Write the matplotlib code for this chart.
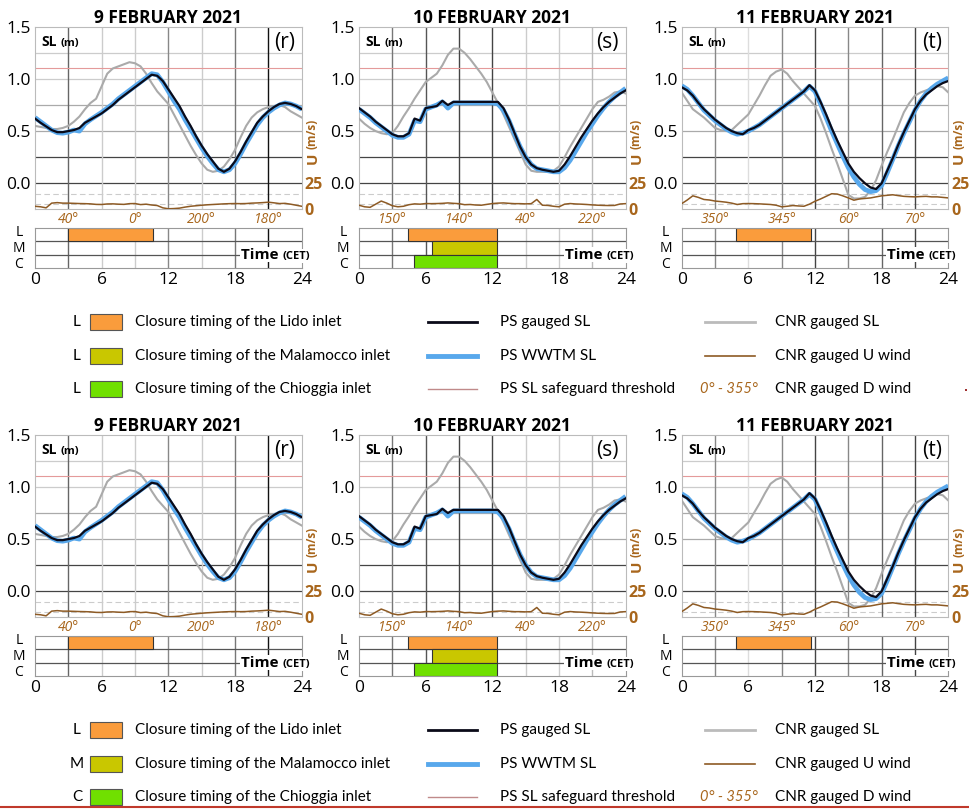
import numpy as np
import matplotlib.pyplot as plt
from matplotlib.lines import Line2D
from matplotlib.patches import Rectangle
import matplotlib.transforms as mtransforms

plt.rcParams['font.family'] = ['Open Sans', 'DejaVu Sans']

W, H = 970, 810

# time axis (hours, CET), half-hourly
hours = np.arange(0, 24.5, 0.5)

days = ["9 FEBRUARY 2021", "10 FEBRUARY 2021", "11 FEBRUARY 2021"]
tags = ["(r)", "(s)", "(t)"]

# PS gauged SL (m)
ps_sl_r = [0.62, 0.58, 0.545, 0.51, 0.49, 0.49, 0.50, 0.51, 0.53, 0.58, 0.61, 0.64,
           0.67, 0.71, 0.75, 0.80, 0.84, 0.88, 0.92, 0.96, 1.00, 1.04, 1.03, 0.98,
           0.90, 0.82, 0.74, 0.64, 0.55, 0.45, 0.36, 0.28, 0.21, 0.14, 0.11, 0.14,
           0.21, 0.30, 0.40, 0.49, 0.58, 0.64, 0.69, 0.73, 0.76, 0.77, 0.76, 0.74,
           0.71]
ps_sl_s = [0.72, 0.68, 0.64, 0.59, 0.55, 0.51, 0.47, 0.45, 0.45, 0.48, 0.62, 0.60,
           0.72, 0.73, 0.74, 0.79, 0.75, 0.78, 0.78, 0.78, 0.78, 0.78, 0.78, 0.78,
           0.78, 0.78, 0.72, 0.61, 0.48, 0.35, 0.25, 0.18, 0.145, 0.13, 0.12, 0.11,
           0.12, 0.18, 0.26, 0.35, 0.44, 0.52, 0.60, 0.67, 0.73, 0.78, 0.82, 0.86,
           0.89]
ps_sl_t = [0.92, 0.89, 0.84, 0.77, 0.71, 0.66, 0.61, 0.57, 0.53, 0.50, 0.48, 0.47,
           0.51, 0.53, 0.56, 0.60, 0.64, 0.68, 0.72, 0.76, 0.80, 0.84, 0.88, 0.94,
           0.89, 0.78, 0.66, 0.53, 0.41, 0.30, 0.19, 0.11, 0.05, 0.00, -0.04, -0.055,
           0.00, 0.12, 0.24, 0.37, 0.49, 0.60, 0.71, 0.79, 0.85, 0.89, 0.93, 0.96,
           0.98]

# PS WWTM SL (m)
wwtm_r = [0.63, 0.59, 0.55, 0.51, 0.485, 0.48, 0.49, 0.51, 0.50, 0.57, 0.61, 0.645,
          0.68, 0.72, 0.76, 0.81, 0.85, 0.89, 0.93, 0.97, 1.01, 1.05, 1.04, 0.97,
          0.88, 0.79, 0.71, 0.61, 0.52, 0.43, 0.34, 0.26, 0.19, 0.13, 0.11, 0.13,
          0.19, 0.28, 0.38, 0.47, 0.56, 0.63, 0.68, 0.72, 0.75, 0.77, 0.76, 0.74,
          0.71]
wwtm_s = [0.71, 0.67, 0.63, 0.58, 0.54, 0.50, 0.46, 0.44, 0.44, 0.47, 0.60, 0.59,
          0.71, 0.73, 0.75, 0.78, 0.72, 0.77, 0.77, 0.77, 0.77, 0.77, 0.77, 0.77,
          0.77, 0.76, 0.70, 0.60, 0.47, 0.35, 0.25, 0.18, 0.14, 0.13, 0.12, 0.11,
          0.11, 0.15, 0.22, 0.31, 0.40, 0.49, 0.57, 0.65, 0.72, 0.78, 0.83, 0.87,
          0.91]
wwtm_t = [0.935, 0.90, 0.84, 0.77, 0.70, 0.65, 0.60, 0.56, 0.52, 0.49, 0.47, 0.48,
          0.50, 0.53, 0.56, 0.60, 0.64, 0.68, 0.72, 0.76, 0.80, 0.84, 0.88, 0.93,
          0.88, 0.76, 0.63, 0.50, 0.38, 0.26, 0.15, 0.06, -0.01, -0.06, -0.08, -0.07,
          -0.02, 0.10, 0.23, 0.36, 0.48, 0.59, 0.70, 0.79, 0.86, 0.91, 0.95, 0.98,
          1.01]

# CNR gauged SL (m)
cnr_sl_r = [0.55, 0.54, 0.53, 0.52, 0.52, 0.53, 0.55, 0.59, 0.64, 0.71, 0.77, 0.81,
            0.93, 1.05, 1.10, 1.12, 1.14, 1.16, 1.15, 1.12, 1.05, 0.96, 0.88, 0.82,
            0.76, 0.66, 0.56, 0.46, 0.36, 0.27, 0.19, 0.13, 0.11, 0.12, 0.16, 0.23,
            0.32, 0.44, 0.55, 0.63, 0.68, 0.71, 0.73, 0.74, 0.75, 0.73, 0.69, 0.66,
            0.63]
cnr_sl_s = [0.62, 0.57, 0.53, 0.50, 0.48, 0.47, 0.48, 0.55, 0.64, 0.72, 0.81, 0.89,
            0.97, 1.01, 1.05, 1.13, 1.23, 1.29, 1.29, 1.25, 1.19, 1.12, 1.05, 0.97,
            0.87, 0.77, 0.66, 0.54, 0.42, 0.30, 0.18, 0.12, 0.11, 0.11, 0.11, 0.12,
            0.16, 0.25, 0.35, 0.44, 0.53, 0.62, 0.71, 0.78, 0.80, 0.83, 0.87, 0.88,
            0.86]
cnr_sl_t = [0.87, 0.79, 0.71, 0.67, 0.63, 0.58, 0.53, 0.51, 0.50, 0.51, 0.56, 0.61,
            0.66, 0.75, 0.84, 0.94, 1.03, 1.07, 1.09, 1.05, 0.98, 0.92, 0.86, 0.80,
            0.74, 0.62, 0.48, 0.33, 0.19, 0.04, -0.11, -0.145, -0.145, -0.13, -0.07, 0.03,
            0.17, 0.30, 0.42, 0.55, 0.68, 0.77, 0.84, 0.87, 0.89, 0.91, 0.93, 0.92,
            0.87]

# CNR gauged U wind (m/s)
wind_r = [3.0, 2.5, 1.5, 6.0, 6.5, 6.0, 6.0, 5.8, 5.6, 5.5, 5.3, 4.8,
          4.7, 5.2, 5.3, 5.0, 4.8, 5.5, 5.6, 4.6, 5.0, 4.2, 3.7, 1.5,
          0.6, 0.8, 1.2, 2.2, 3.0, 3.5, 4.0, 4.4, 4.7, 5.0, 5.3, 5.5,
          5.6, 5.5, 5.6, 6.0, 6.2, 6.5, 6.9, 6.3, 5.6, 5.8, 5.0, 4.0,
          3.0]
wind_s = [4.0, 2.5, 2.0, 5.0, 8.0, 6.0, 3.5, 2.5, 3.0, 4.5, 5.3, 5.0,
          5.6, 5.5, 5.6, 5.8, 6.2, 5.8, 5.5, 4.5, 4.7, 4.2, 4.0, 4.8,
          5.6, 6.0, 6.2, 5.8, 5.5, 5.5, 5.3, 5.5, 9.5, 4.0, 3.8, 3.0,
          2.5, 5.0, 5.6, 5.2, 5.0, 4.7, 4.3, 4.0, 3.8, 3.7, 3.8, 5.2,
          5.5]
wind_t = [5.5, 9.0, 13.0, 11.5, 9.5, 9.0, 8.0, 7.5, 6.9, 6.0, 4.7, 5.5,
          5.6, 5.5, 5.3, 5.0, 4.7, 4.0, 2.5, 3.0, 3.7, 3.3, 3.0, 5.0,
          7.8, 10.0, 12.5, 15.0, 14.7, 13.0, 11.0, 8.8, 10.0, 10.5, 11.0, 12.0,
          13.0, 13.5, 14.0, 13.2, 12.5, 12.2, 12.0, 12.3, 12.5, 12.0, 12.0, 11.5,
          11.0]

# CNR gauged D wind labels, at 3, 9, 15, 21 h
dir_hours = [3, 9, 15, 21]
dir_r = ["40°", "0°", "200°", "180°"]
dir_s = ["150°", "140°", "40°", "220°"]
dir_t = ["350°", "345°", "60°", "70°"]

# closure timings (start h, end h), None = no closure
lido = [(3.0, 10.6), (4.45, 12.45), (4.85, 11.6)]
malamocco = [None, (6.55, 12.45), None]
chioggia = [None, (4.95, 12.45), None]
inlet_letters = ['L', 'M', 'C']

threshold = 1.1

ps_sl = [ps_sl_r, ps_sl_s, ps_sl_t]
wwtm = [wwtm_r, wwtm_s, wwtm_t]
cnr_sl = [cnr_sl_r, cnr_sl_s, cnr_sl_t]
wind = [wind_r, wind_s, wind_t]
dirs = [dir_r, dir_s, dir_t]

BROWN = '#8d5a24'
BROWN_TXT = '#a8661c'
BLUE = '#58a8ec'
ORANGE = '#fa9c3c'
OLIVE = '#c9c700'
GREEN = '#70e000'

# vertical grid shades at 3..21 h for each day
vgrid = [['#666', '#ccc', '#ccc', '#888', '#ccc', '#777', '#111'],
         ['#777', '#555', '#444', '#444', '#ccc', '#ccc', '#bbb'],
         ['#888', '#ddd', '#888', '#444', '#888', '#666', '#444']]

panel_x = [(35, 301.7), (359, 625.7), (681.7, 948.3)]

fig = plt.figure(figsize=(W / 100, H / 100), dpi=100)


def px_axes(x0, y0, x1, y1):
    return fig.add_axes([x0 / W, 1 - y1 / H, (x1 - x0) / W, (y1 - y0) / H])


def draw_panel(i, off):
    x0, x1 = panel_x[i]
    ax = px_axes(x0, 26.7 + off, x1, 209.4 + off)
    ax.set_xlim(0, 24)
    ax.set_ylim(-0.25, 1.5)
    ax.set_xticks([])
    ax.set_yticks([0, 0.5, 1.0, 1.5])
    ax.set_yticklabels(['0.0', '0.5', '1.0', '1.5'])
    ax.tick_params(axis='y', length=0, pad=3, labelsize=12.5)
    for sp in ax.spines.values():
        sp.set_color('#bbbbbb')
        sp.set_linewidth(0.8)

    for yy, c in [(1.25, '#cccccc'), (1.0, '#cccccc'), (0.75, '#aaaaaa'),
                  (0.5, '#aaaaaa'), (0.25, '#444444'), (0.0, '#444444')]:
        ax.axhline(yy, color=c, lw=0.9, zorder=1)
    for yy in (-0.1, -0.2):
        ax.axhline(yy, color='#cccccc', lw=0.8, ls=(0, (5, 3)), zorder=1)
    for h, c in zip(range(3, 24, 3), vgrid[i]):
        ax.axvline(h, color=c, lw=1.0, zorder=1)
    ax.axhline(threshold, color='#e49a9a', lw=0.8, zorder=2)

    ax.plot(hours, cnr_sl[i], color='#aaaaaa', lw=1.5, zorder=3)
    ax.plot(hours, wwtm[i], color=BLUE, lw=3.4, zorder=4, solid_capstyle='butt')
    ax.plot(hours, ps_sl[i], color='#0a0a18', lw=1.6, zorder=5)

    ax2 = ax.twinx()
    ax2.set_ylim(0, 175)
    ax2.set_yticks([0, 25])
    ax2.tick_params(axis='y', length=0, pad=2, labelsize=11.5, labelcolor=BROWN_TXT)
    for lab in ax2.get_yticklabels():
        lab.set_fontweight('bold')
    for sp in ax2.spines.values():
        sp.set_visible(False)
    ax2.plot(hours, wind[i], color=BROWN, lw=1.1)

    ut = ax.text(1.04, 0.25, "U", transform=ax.transAxes, rotation=90,
                 ha='center', va='bottom', fontsize=11, fontweight='bold',
                 color=BROWN_TXT)
    ax.annotate("(m/s)", xy=(0.5, 1), xycoords=ut, xytext=(0, 2),
                textcoords='offset points', rotation=90, ha='center',
                va='bottom', fontsize=8.5, fontweight='bold', color=BROWN_TXT)

    sl = ax.text(0.025, 0.895, "SL", transform=ax.transAxes, fontsize=10,
                 fontweight='bold', va='baseline', zorder=6)
    ax.annotate("(m)", xy=(1, 0), xycoords=sl, xytext=(2.5, 0),
                textcoords='offset points', va='bottom', fontsize=8,
                fontweight='bold')
    ax.text(0.975, 0.915, tags[i], transform=ax.transAxes, fontsize=15,
            ha='right', va='center')
    ax.set_title(days[i], fontsize=12.5, fontweight='bold', pad=2)

    trans = mtransforms.blended_transform_factory(ax.transData, ax.transAxes)
    for h, lab in zip(dir_hours, dirs[i]):
        ax.text(h, -0.058, lab, transform=trans, ha='center', va='center',
                fontsize=10, style='italic', color=BROWN_TXT)

    # closure bars
    axc = px_axes(x0, 227.7 + off, x1, 268.3 + off)
    axc.set_xlim(0, 24)
    axc.set_ylim(0, 3)
    for sp in axc.spines.values():
        sp.set_color('#999999')
        sp.set_linewidth(0.8)
    for h, c in zip(range(3, 24, 3), vgrid[i]):
        axc.axvline(h, color=c, lw=1.0, zorder=1)
    for yy in (1, 2):
        axc.axhline(yy, color='#555555', lw=0.9, zorder=1)
    for row, spans, col in [(2.5, lido, ORANGE), (1.5, malamocco, OLIVE),
                            (0.5, chioggia, GREEN)]:
        if spans[i] is not None:
            a, b = spans[i]
            axc.barh(row, b - a, left=a, height=1.0, color=col,
                     edgecolor='#333333', lw=0.8, zorder=2)
    axc.set_xticks([0, 6, 12, 18, 24])
    axc.set_yticks([])
    axc.tick_params(axis='x', length=0, pad=3, labelsize=12.5)
    # row letters, spread a little wider than the rows as in the original
    for letter, ypx in zip(inlet_letters, (232, 248.5, 265)):
        fig.text((x0 - 16) / W, 1 - (ypx + off) / H, letter, ha='center',
                 va='center', fontsize=10)
    cet = axc.text(1.03, 0.72, "(CET)", transform=mtransforms.blended_transform_factory(
        axc.transAxes, axc.transData), ha='right', va='baseline', fontsize=8,
        fontweight='bold', zorder=5, bbox=dict(fc='white', ec='none', pad=1),
        clip_on=False)
    axc.annotate("Time ", xy=(0, 0), xycoords=cet, ha='right', va='bottom',
                 fontsize=11, fontweight='bold', zorder=5,
                 bbox=dict(fc='white', ec='none', pad=0.5))


def draw_legend(rows_y, letters):
    fam = ['Liberation Sans Narrow', 'Lato', 'DejaVu Sans']
    patches = [(ORANGE, "Closure timing of the Lido inlet"),
               (OLIVE, "Closure timing of the Malamocco inlet"),
               (GREEN, "Closure timing of the Chioggia inlet")]
    mid = [('#0a0a18', 2.0, "PS gauged SL"), (BLUE, 3.5, "PS WWTM SL"),
           ('#c08a8a', 1.0, "PS SL safeguard threshold")]
    right = ["CNR gauged SL", "CNR gauged U wind", "CNR gauged D wind"]
    right_style = [('#bbbbbb', 2.0), (BROWN, 1.2)]
    for k, y in enumerate(rows_y):
        yf = 1 - y / H
        fig.text(77 / W, yf, letters[k], ha='center', va='center', fontsize=11,
                 family=fam)
        fig.add_artist(Rectangle((90 / W, 1 - (y + 8) / H), 32 / W, 16 / H,
                                 transform=fig.transFigure, fc=patches[k][0],
                                 ec='#555555', lw=0.8))
        fig.text(135 / W, yf, patches[k][1], va='center', fontsize=11, family=fam)
        c, lw, lab = mid[k]
        fig.add_artist(Line2D([428 / W, 477 / W], [yf, yf], transform=fig.transFigure,
                              color=c, lw=lw))
        fig.text(500 / W, yf, lab, va='center', fontsize=11, family=fam)
        if k < 2:
            c, lw = right_style[k]
            fig.add_artist(Line2D([705 / W, 755 / W], [yf, yf],
                                  transform=fig.transFigure, color=c, lw=lw))
        else:
            fig.text(729 / W, yf, "0° - 355°", ha='center', va='center',
                     fontsize=10.5, style='italic', color=BROWN_TXT, family=fam)
        fig.text(775 / W, yf, right[k], va='center', fontsize=11, family=fam)


for off in (0, 408):
    for i in range(3):
        draw_panel(i, off)

draw_legend([322, 356, 389], ['L', 'L', 'L'])
draw_legend([730, 764, 797], ['L', 'M', 'C'])

# thin red rule along the bottom edge and stray mark
fig.add_artist(Line2D([0, 1], [1 - 807 / H, 1 - 807 / H], transform=fig.transFigure,
                      color='#c0392b', lw=1.5))
fig.add_artist(Rectangle((965 / W, 1 - 391 / H), 2 / W, 2 / H,
                         transform=fig.transFigure, fc='#a03030', ec='none'))

fig.savefig('out.png', dpi=100, facecolor='white')
